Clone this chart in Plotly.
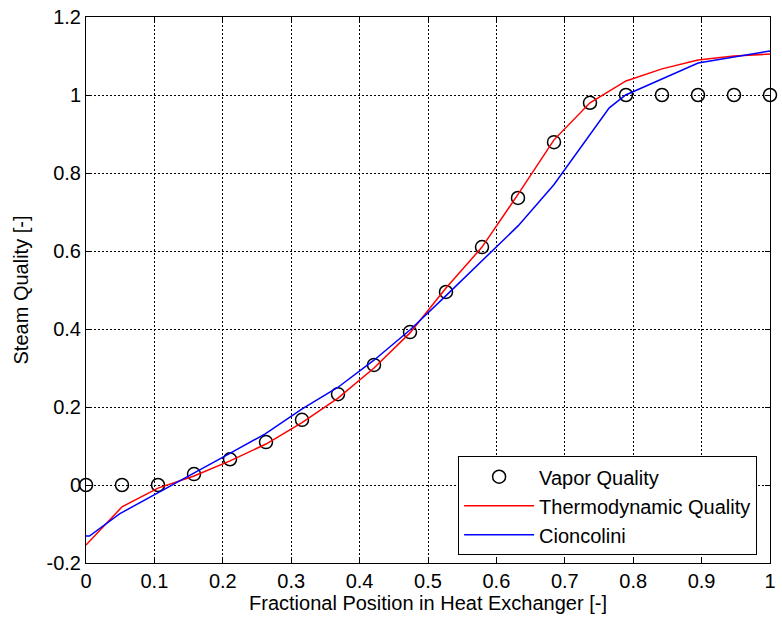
import plotly.graph_objects as go

# Axial positions along the heat exchanger (20 stations)
position = [i / 19 for i in range(20)]

# Measured vapor quality at each station
vapor_quality = [0.0, 0.0, 0.0, 0.028, 0.066, 0.110, 0.167, 0.233, 0.308, 0.392,
                 0.495, 0.610, 0.736, 0.879, 0.980, 1.0, 1.0, 1.0, 1.0, 1.0]

# Thermodynamic (equilibrium) quality at each station
thermo_quality = [-0.154, -0.056, -0.008, 0.023, 0.062, 0.105, 0.160, 0.223, 0.300, 0.390,
                  0.505, 0.610, 0.745, 0.885, 0.980, 1.036, 1.067, 1.090, 1.100, 1.105]

# Cioncolini correlation
cion_x = [0.0, 0.005, 0.049, 0.103, 0.155, 0.209, 0.262, 0.316, 0.368, 0.421, 0.474,
          0.526, 0.579, 0.632, 0.684, 0.725, 0.765, 0.789, 0.842, 0.895, 1.0]
cion_q = [-0.131, -0.131, -0.074, -0.023, 0.028, 0.080, 0.131, 0.195, 0.250, 0.320, 0.398,
          0.485, 0.575, 0.665, 0.770, 0.869, 0.967, 1.000, 1.040, 1.082, 1.113]

x_ticks = [0, 0.1, 0.2, 0.3, 0.4, 0.5, 0.6, 0.7, 0.8, 0.9, 1]
x_tick_text = ["0", "0.1", "0.2", "0.3", "0.4", "0.5", "0.6", "0.7", "0.8", "0.9", "1"]
y_ticks = [-0.2, 0, 0.2, 0.4, 0.6, 0.8, 1.0, 1.2]
y_tick_text = ["-0.2", "0", "0.2", "0.4", "0.6", "0.8", "1", "1.2"]

font_family = "Liberation Sans, Arial, sans-serif"
font_size = 20

fig = go.Figure()
fig.add_trace(go.Scatter(
    x=position, y=vapor_quality, mode="markers", name="Vapor Quality",
    legendgroup="a",
    marker=dict(symbol="circle-open", size=13, color="black", line=dict(width=1.5, color="black")),
    cliponaxis=False,
))
fig.add_trace(go.Scatter(
    x=position, y=thermo_quality, mode="lines", name="Thermodynamic Quality",
    legendgroup="b",
    line=dict(color="#ff0000", width=1.5),
))
fig.add_trace(go.Scatter(
    x=cion_x, y=cion_q, mode="lines", name="Cioncolini",
    legendgroup="c",
    line=dict(color="#0000ff", width=1.5),
))

axis_common = dict(
    showline=True, linecolor="black", linewidth=1, mirror="ticks",
    ticks="inside", ticklen=5, tickcolor="black", tickwidth=1,
    showgrid=True, gridcolor="black", gridwidth=1, griddash="2px,2px",
    zeroline=False,
    tickfont=dict(family=font_family, size=font_size, color="black"),
)

fig.update_xaxes(
    range=[0, 1], tickvals=x_ticks, ticktext=x_tick_text,
    title=dict(text="Fractional Position in Heat Exchanger [-]",
               font=dict(family=font_family, size=font_size, color="black"), standoff=4),
    **axis_common,
)
fig.update_yaxes(
    range=[-0.2, 1.2], tickvals=y_ticks, ticktext=y_tick_text,
    title=dict(text="Steam Quality [-]",
               font=dict(family=font_family, size=font_size, color="black"), standoff=12),
    **axis_common,
)

fig.update_layout(
    width=782, height=622,
    margin=dict(l=86, r=6, t=16, b=59),
    plot_bgcolor="white", paper_bgcolor="white",
    showlegend=True,
    legend=dict(
        x=0.544, y=0.1956, xanchor="left", yanchor="top",
        bgcolor="white", bordercolor="black", borderwidth=1,
        font=dict(family=font_family, size=font_size, color="black"),
        tracegroupgap=0, itemwidth=70,
    ),
)

fig.write_html("out.html")
